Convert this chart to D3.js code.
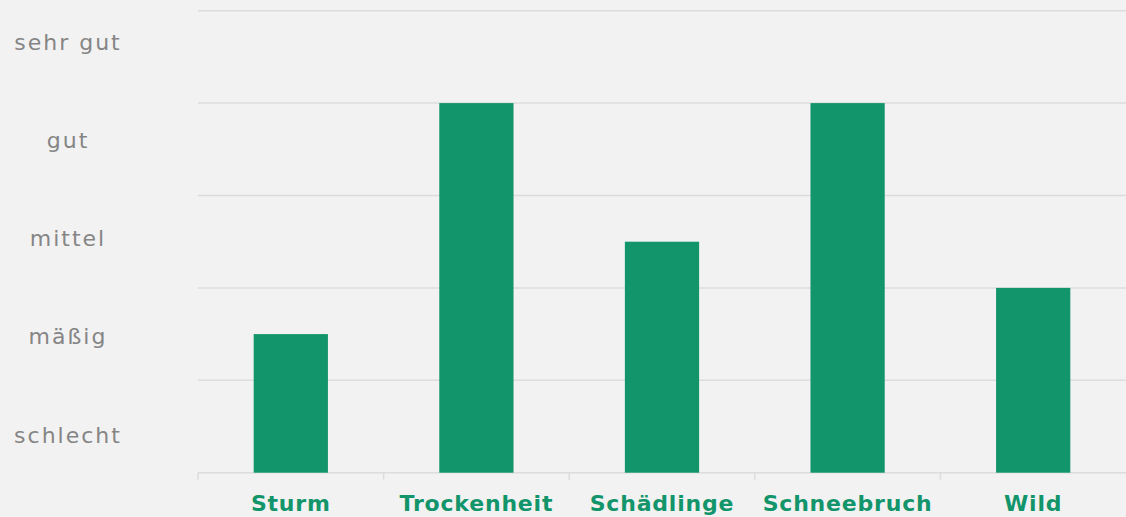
<!DOCTYPE html>
<html>
<head>
<meta charset="utf-8">
<script src="https://cdn.jsdelivr.net/npm/d3@7"></script>
<style>
  html, body { margin: 0; padding: 0; background: #f2f2f2; }
  svg { display: block; }
</style>
</head>
<body>
<svg id="chart" width="1126" height="517"></svg>
<script>
// Data
const categories = ['Sturm', 'Trockenheit', 'Schädlinge', 'Schneebruch', 'Wild'];
const values = [1.5, 4, 2.5, 4, 2];
const ratingLabels = ['schlecht', 'mäßig', 'mittel', 'gut', 'sehr gut'];
const gridValues = [0, 1, 2, 3, 4, 5];

const width = 1126, height = 517;
const margin = { left: 198, right: 0, top: 10.7, bottom: 44.3 };
const green = '#12956a';
const font = "'DejaVu Sans', 'Noto Sans', sans-serif";

const svg = d3.select('#chart');
svg.append('rect').attr('width', width).attr('height', height).attr('fill', '#f2f2f2');

const x = d3.scaleBand()
    .domain(categories)
    .range([margin.left, width - margin.right])
    .paddingInner(0.6)
    .paddingOuter(0.3);

const y = d3.scaleLinear()
    .domain([0, 5])
    .range([height - margin.bottom, margin.top]);

// Rating labels sit on their own scale
const yLabel = d3.scalePoint()
    .domain(ratingLabels)
    .range([435, 42]);

// Gridlines
svg.append('g')
    .selectAll('line')
    .data(gridValues)
    .join('line')
    .attr('x1', margin.left)
    .attr('x2', width - margin.right)
    .attr('y1', d => y(d))
    .attr('y2', d => y(d))
    .attr('stroke', '#dcdcdc')
    .attr('stroke-width', 1.5);

// Category separators below the baseline
const step = x.step();
const tickXs = categories.map((c, i) => margin.left + i * step);
svg.append('g')
    .selectAll('line')
    .data(tickXs)
    .join('line')
    .attr('x1', d => d)
    .attr('x2', d => d)
    .attr('y1', y(0))
    .attr('y2', y(0) + 7)
    .attr('stroke', '#dcdcdc')
    .attr('stroke-width', 1.5);

// Bars
svg.append('g')
    .selectAll('rect')
    .data(categories)
    .join('rect')
    .attr('x', d => x(d))
    .attr('width', x.bandwidth())
    .attr('y', (d, i) => y(values[i]))
    .attr('height', (d, i) => y(0) - y(values[i]))
    .attr('fill', green);

// Y labels
svg.append('g')
    .selectAll('text')
    .data(ratingLabels)
    .join('text')
    .attr('x', 68)
    .attr('y', d => yLabel(d))
    .attr('dy', '0.35em')
    .attr('text-anchor', 'middle')
    .attr('font-family', font)
    .attr('font-size', 22)
    .attr('letter-spacing', 2)
    .attr('fill', '#858585')
    .text(d => d);

// Category labels
svg.append('g')
    .selectAll('text')
    .data(categories)
    .join('text')
    .attr('x', d => x(d) + x.bandwidth() / 2)
    .attr('y', 511)
    .attr('text-anchor', 'middle')
    .attr('font-family', font)
    .attr('font-weight', 'bold')
    .attr('font-size', 22)
    .attr('letter-spacing', 0.8)
    .attr('fill', green)
    .text(d => d);
</script>
</body>
</html>
